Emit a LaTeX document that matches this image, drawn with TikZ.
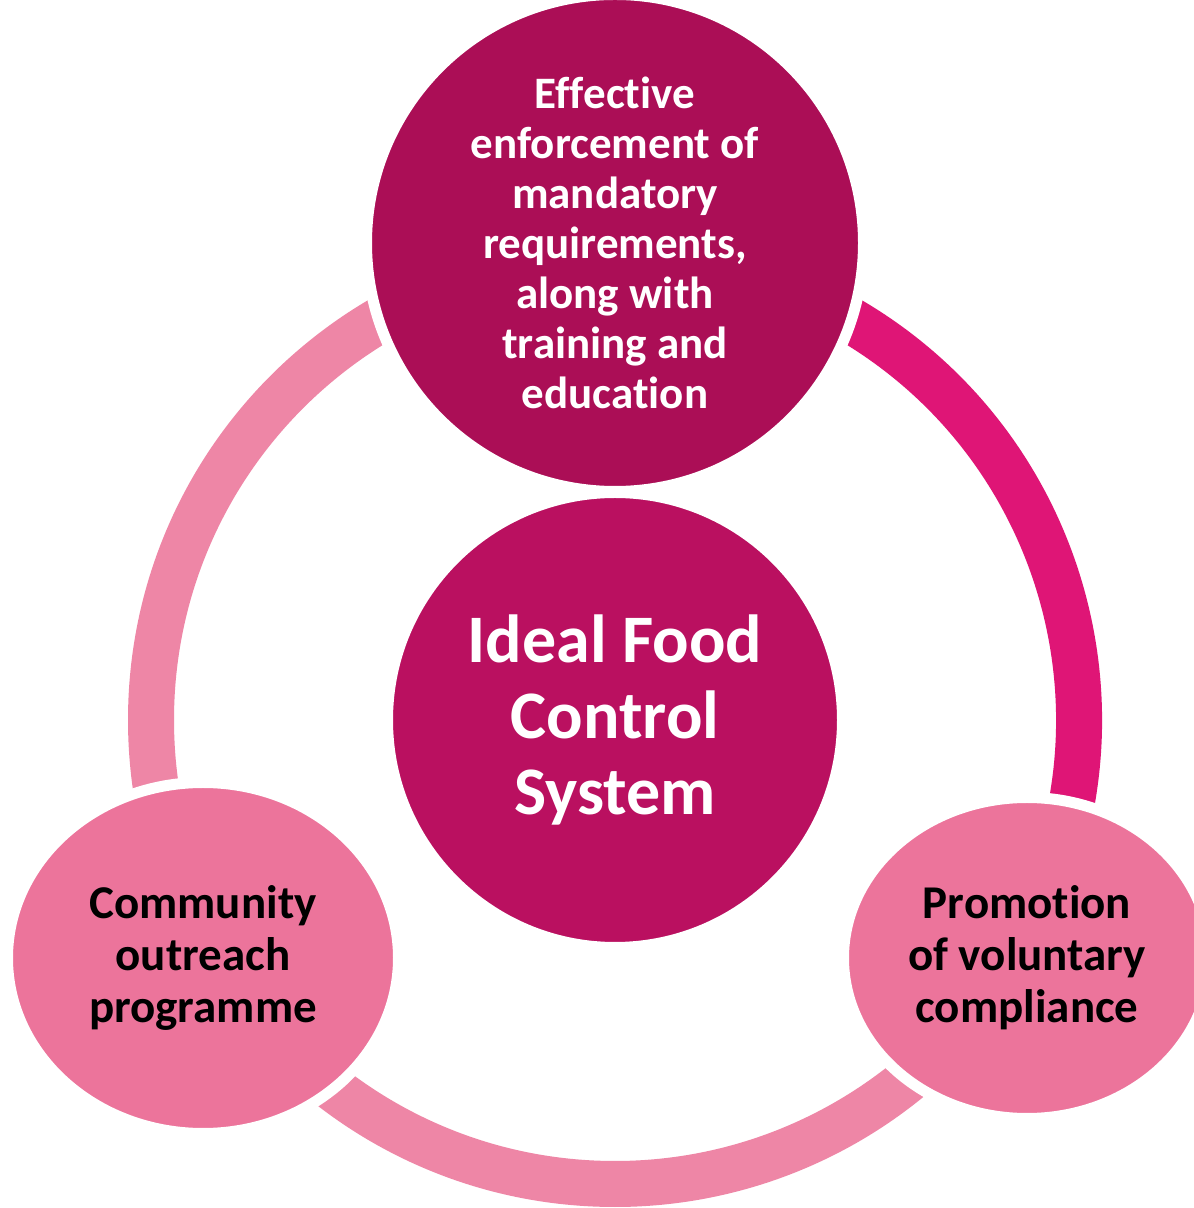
\documentclass[tikz,border=0pt]{standalone}
\usepackage{fontspec}
\setmainfont{Carlito}[Ligatures=NoCommon]
\usetikzlibrary{shapes.geometric,calc}
\definecolor{topc}{HTML}{AB0E56}
\definecolor{midc}{HTML}{BA1060}
\definecolor{ellc}{HTML}{EC749B}
\definecolor{darkring}{HTML}{DF1576}
\definecolor{lightring}{HTML}{EE86A6}
\begin{document}
\begin{tikzpicture}[x=1pt,y=1pt,
  ringseg/.style={line width=46pt},
  bigdisc/.style={circle, draw=white, line width=11pt, inner sep=0pt, align=center, font=\bfseries},
  oval/.style={ellipse, draw=white, line width=11pt, fill=ellc, inner sep=0pt, align=center, text=black,
     font=\fontsize{47}{52}\selectfont\bfseries}]
\useasboundingbox[fill=white] (0,0) rectangle (1194,1208);
\coordinate (ringc) at (615,488);
% ring arcs
\draw[ringseg, lightring] ($(ringc)+(90:464)$) arc[start angle=90, end angle=330, radius=464];
\draw[ringseg, darkring] ($(ringc)+(-30:464)$) arc[start angle=-30, end angle=90, radius=464];
% nodes
\node[bigdisc, fill=topc, minimum size=497pt, text=white,
  font=\fontsize{45}{50}\selectfont\bfseries] (top) at (615,965)
  {Effective\\enforcement of\\mandatory\\requirements,\\along with\\training and\\education};
\node[bigdisc, fill=midc, minimum size=455pt, text=white,
  font=\fontsize{68}{76}\selectfont\bfseries] (mid) at (615,488)
  {Ideal Food\\Control\\System};
\node[oval, minimum width=391pt, minimum height=351pt] (left) at (203,250)
  {Community\\outreach\\programme};
\node[oval, minimum width=367pt, minimum height=321pt] (right) at (1027,250)
  {Promotion\\of voluntary\\compliance};
\end{tikzpicture}
\end{document}
